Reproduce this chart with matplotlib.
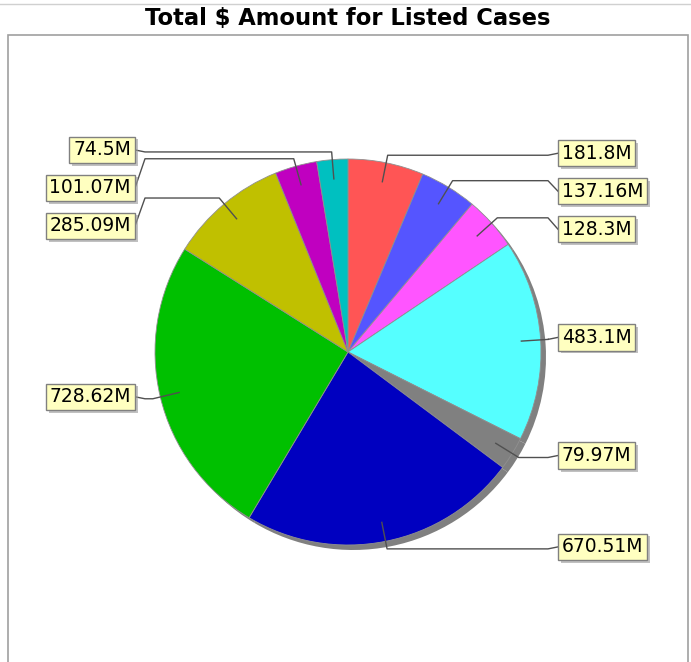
import numpy as np
import matplotlib.pyplot as plt
import matplotlib.patheffects as pe
from matplotlib.patches import Rectangle

# Slice data, clockwise from 12 o'clock
values = [181.8, 137.16, 128.3, 483.1, 79.97, 670.51, 728.62, 285.09, 101.07, 74.5]
labels = ['181.8M', '137.16M', '128.3M', '483.1M', '79.97M',
          '670.51M', '728.62M', '285.09M', '101.07M', '74.5M']
colors = ['#ff5555', '#5555ff', '#ff55ff', '#55ffff', '#808080',
          '#0000c0', '#00c000', '#c0c000', '#c000c0', '#00c0c0']
title = 'Total $ Amount for Listed Cases'

W, H = 691, 662
cx, cy, R = 348, H - 352, 193  # pie centre / radius in pixel units (y up)

fig = plt.figure(figsize=(W / 100, H / 100), dpi=100)
ax = fig.add_axes([0, 0, 1, 1])

# shadow under the pie
ax.pie(values, colors=['#808080'] * len(values), center=(cx + 5, cy - 5), radius=R,
       startangle=90, counterclock=False, wedgeprops=dict(linewidth=0))
wedges, _ = ax.pie(values, colors=colors, center=(cx, cy), radius=R,
                   startangle=90, counterclock=False,
                   wedgeprops=dict(edgecolor='#909090', linewidth=0.6))

ax.set_xlim(0, W)
ax.set_ylim(0, H)
ax.set_aspect('equal')
ax.axis('off')

# frame of the plot area and top border
ax.add_patch(Rectangle((8, -10), 680, H - 35 + 10, fill=False, edgecolor='#a0a0a0', lw=1.2, zorder=0))
ax.plot([0, W], [H - 4, H - 4], color='#d0d0d0', lw=1)

ax.text(W / 2 + 2, H - 18, title, ha='center', va='center', fontsize=16.3, fontweight='bold')

# label layout: natural y at the elbow point, then spread so boxes do not overlap
items = {'left': [], 'right': []}
for w, lab in zip(wedges, labels):
    mid = np.radians((w.theta1 + w.theta2) / 2)
    inner = (cx + 0.9 * R * np.cos(mid), cy + 0.9 * R * np.sin(mid))
    elbow = (cx + 1.04 * R * np.cos(mid), cy + 1.04 * R * np.sin(mid))
    side = 'right' if np.cos(mid) > 0 else 'left'
    items[side].append([lab, inner, elbow, elbow[1]])

gap = 38
for side, lst in items.items():
    lst.sort(key=lambda t: -t[3])
    for i in range(1, len(lst)):
        lst[i][3] = min(lst[i][3], lst[i - 1][3] - gap)

    for lab, inner, elbow, ly in lst:
        ly += 2
        if side == 'right':
            box_x, hx, ha, tx = 558, 548, 'left', 562
        else:
            box_x, hx, ha, tx = 135, 145, 'right', 131
        ax.plot([inner[0], elbow[0], hx, box_x], [inner[1], elbow[1], elbow[1], ly],
                color='#505050', lw=1, zorder=3)
        t = ax.text(tx, ly, lab, ha=ha, va='center', fontsize=13.5, zorder=5,
                    bbox=dict(boxstyle='square,pad=0.2', facecolor='#ffffc0',
                              edgecolor='#808080', lw=1))
        t.get_bbox_patch().set_path_effects(
            [pe.SimplePatchShadow(offset=(2, -2), shadow_rgbFace='#999999', alpha=0.6), pe.Normal()])

plt.savefig('out.png', dpi=100)
